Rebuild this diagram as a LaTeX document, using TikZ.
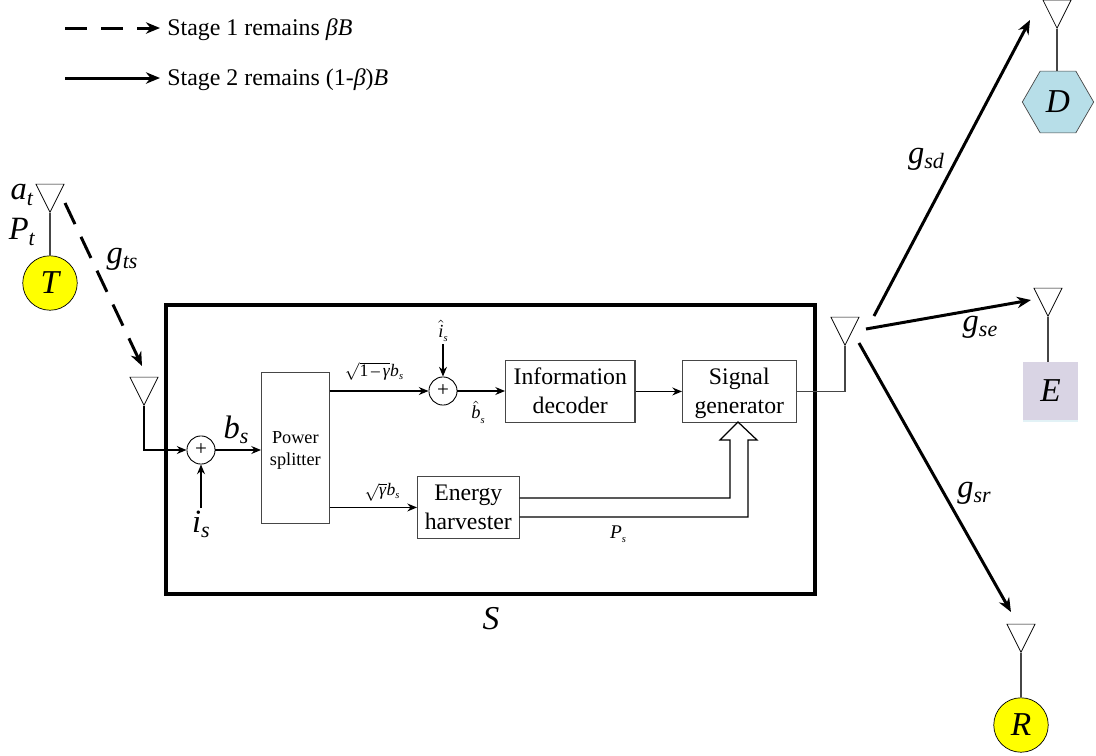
\documentclass[tikz,border=0pt]{standalone}
\usepackage{amsmath}
\usepackage{fontspec}
\setmainfont{Liberation Serif}
\usetikzlibrary{arrows.meta,positioning,shapes.geometric,calc}
\definecolor{nodeyellow}{RGB}{255,255,0}
\definecolor{nodeblue}{RGB}{183,222,232}
\definecolor{nodelilac}{RGB}{217,212,228}
\definecolor{wiregray}{RGB}{70,70,70}
\newcommand{\biglab}[2]{{\fontsize{18.5}{18.5}\selectfont\textit{#1}\raisebox{-0.35ex}{\fontsize{12.5}{12.5}\selectfont\textit{#2}}}}
\newcommand{\smalllab}[2]{{\fontsize{11}{11}\selectfont #1\raisebox{-0.4ex}{\fontsize{6}{6}\selectfont\textit{#2}}}}
\newcommand{\mi}[1]{\text{\textit{#1}}}
\tikzset{
  antenna/.style={draw=black,line width=0.4pt,isosceles triangle,isosceles triangle apex angle=54,
    isosceles triangle stretches,shape border rotate=270,minimum width=16pt,minimum height=16pt,inner sep=0pt,anchor=apex},
  mast/.style={draw=wiregray,line width=0.6pt},
  block/.style={draw=wiregray,line width=0.6pt,align=center,inner sep=0pt,anchor=north west},
  bigtext/.style={font=\fontsize{13.5}{16.4}\selectfont,text height=28pt,text depth=3pt},
  adder/.style={draw=black,circle,line width=0.5pt,minimum size=16pt,inner sep=0pt,font=\fontsize{12}{12}\selectfont},
  wire/.style={draw=black,line width=0.7pt},
  sig/.style={wire,-{Stealth[length=5.5pt,width=4.5pt]}},
  link/.style={draw=black,line width=1.7pt,-{Stealth[length=8pt,width=6.5pt]}},
  lab/.style={inner sep=0pt,font=\fontsize{13.6}{13.6}\selectfont},
  letter/.style={font=\fontsize{19}{19}\selectfont\itshape,inner sep=0pt}
}
\begin{document}
\begin{tikzpicture}[x=0.02cm,y=-0.02cm]
  \useasboundingbox (0,0) rectangle (1096,755);
  \coordinate (legAs) at (65,28);
  \coordinate (legAe) at (160,28);
  \coordinate (legBs) at (65,78);
  \coordinate (legBe) at (160,78);
  \draw[link,dash pattern=on 12.5pt off 8pt] (legAs) -- (legAe);
  \draw[link] (legBs) -- (legBe);
  \node[lab,anchor=west] (legA) at (167,30) {Stage 1 remains \textit{βB}};
  \node[lab,anchor=west] (legB) at (167,80) {Stage 2 remains (1-\textit{β})\textit{B}};

  \draw[draw=black,line width=2.2pt] (166,305) rectangle (815,594);
  \node[letter] (S) at (491,619) {S};

  \node[antenna] (antT) at (50,213) {};
  \node[draw=black,fill=nodeyellow,circle,minimum size=31pt,letter] (T) at (50,283) {T};
  \draw[mast] (antT.apex) -- (T);
  \node[inner sep=0pt] (at) at (22,195) {\biglab{a}{t}};
  \node[inner sep=0pt] (Pt) at (22,232) {\biglab{P}{t}};

  \node[antenna] (antIn) at (144,406) {};
  \node[adder] (addA) at (201,450) {+};
  \node[block,font=\fontsize{10.4}{12}\selectfont,text height=22pt,text depth=2.7pt,minimum width=38.5pt,minimum height=86pt] (split) at (261,372) {Power\\splitter};
  \node[adder] (addB) at (443,391) {+};
  \node[block,bigtext,minimum width=73.7pt,minimum height=35.2pt] (dec) at (505,360) {Information\\decoder};
  \node[block,bigtext,minimum width=64.6pt,minimum height=35.2pt] (gen) at (682,360) {Signal\\generator};
  \node[block,bigtext,minimum width=57.8pt,minimum height=35.2pt] (har) at (417,476) {Energy\\harvester};
  \node[antenna] (antOut) at (845,346) {};

  \coordinate (isIn) at (201,508);
  \coordinate (ihIn) at (443,344);
  \node[inner sep=0pt] (is) at (201,524) {\biglab{i}{s}};
  \node[inner sep=0pt] (bs) at (236,430) {\biglab{b}{s}};
  \node[inner sep=0pt,font=\fontsize{10.5}{10.5}\selectfont] (ih) at (443,331) {$\hat{\mi{i}}$\raisebox{-0.5ex}{\fontsize{6}{6}\selectfont\textit{s}}};
  \node[inner sep=0pt,font=\fontsize{10.5}{10.5}\selectfont] (bh) at (478,412) {$\hat{\mi{b}}$\raisebox{-0.5ex}{\fontsize{6}{6}\selectfont\textit{s}}};
  \node[inner sep=0pt,font=\fontsize{10}{10}\selectfont] (sqA) at (374,371) {$\sqrt{\text{1\,–\,\textit{γ}}}$\textit{b}\raisebox{-0.4ex}{\fontsize{6}{6}\selectfont\textit{s}}};
  \node[inner sep=0pt,font=\fontsize{10}{10}\selectfont] (sqB) at (382,492) {$\sqrt{\text{\textit{γ}}}$\textit{b}\raisebox{-0.4ex}{\fontsize{6}{6}\selectfont\textit{s}}};
  \node[inner sep=0pt] (Ps) at (618,534) {\smalllab{\textit{P}}{s}};

  \draw[sig] (antIn.apex) |- (addA.west);
  \draw[sig] (isIn) -- (addA.south);
  \draw[sig] (addA.east) -- (addA.east -| split.west);
  \draw[sig] (split.east |- addB) -- (addB.west);
  \draw[sig] (ihIn) -- (addB.north);
  \draw[sig] (addB.east) -- (addB.east -| dec.west);
  \draw[sig] (dec.east |- gen.west) -- (gen.west);
  \draw[sig] (split.east |- har.west) -- (har.west);
  \draw[mast] (gen.east) -| (antOut.apex);

  \coordinate (hollowA) at (730,498);
  \coordinate (hollowB) at (748,517);
  \draw[wire,line join=miter] (har.east |- hollowA) -- (hollowA) -- (730,440) -- (720,440) -- (738,422)
    -- (757,440) -- (748,440) -- (hollowB) -- (har.east |- hollowB);

  \node[antenna] (antD) at (1057,29) {};
  \node[draw=wiregray,fill=nodeblue,regular polygon,regular polygon sides=6,minimum size=40.6pt,letter] (D) at (1058,102) {D};
  \draw[mast] (antD.apex) -- (antD.apex |- D.north);
  \node[antenna] (antE) at (1048,317) {};
  \node[fill=nodelilac,minimum width=31pt,minimum height=33pt,letter] (E) at (1050.5,391) {E};
  \fill[nodeblue!40] (E.south west) rectangle ($(E.south east)+(0,2)$);
  \draw[mast] (antE.apex) -- (antE.apex |- E.north);
  \node[antenna] (antR) at (1021,653) {};
  \node[draw=black,fill=nodeyellow,circle,minimum size=31pt,letter] (R) at (1021,725) {R};
  \draw[mast] (antR.apex) -- (R);

  \coordinate (ltsA) at (65,203);
  \coordinate (ltsB) at (142,366);
  \coordinate (lsdA) at (874,316);
  \coordinate (lsdB) at (1030,20);
  \coordinate (lseA) at (866,329);
  \coordinate (lseB) at (1031,300);
  \coordinate (lsrA) at (859,343);
  \coordinate (lsrB) at (1011,612);
  \draw[link,dash pattern=on 13.3pt off 8pt] (ltsA) -- (ltsB);
  \draw[link] (lsdA) -- (lsdB);
  \draw[link] (lseA) -- (lseB);
  \draw[link] (lsrA) -- (lsrB);
  \node[inner sep=0pt] (gts) at (122,259) {\biglab{g}{ts}};
  \node[inner sep=0pt] (gsd) at (926,159) {\biglab{g}{sd}};
  \node[inner sep=0pt] (gse) at (980,327) {\biglab{g}{se}};
  \node[inner sep=0pt] (gsr) at (974,493) {\biglab{g}{sr}};
\end{tikzpicture}
\end{document}
